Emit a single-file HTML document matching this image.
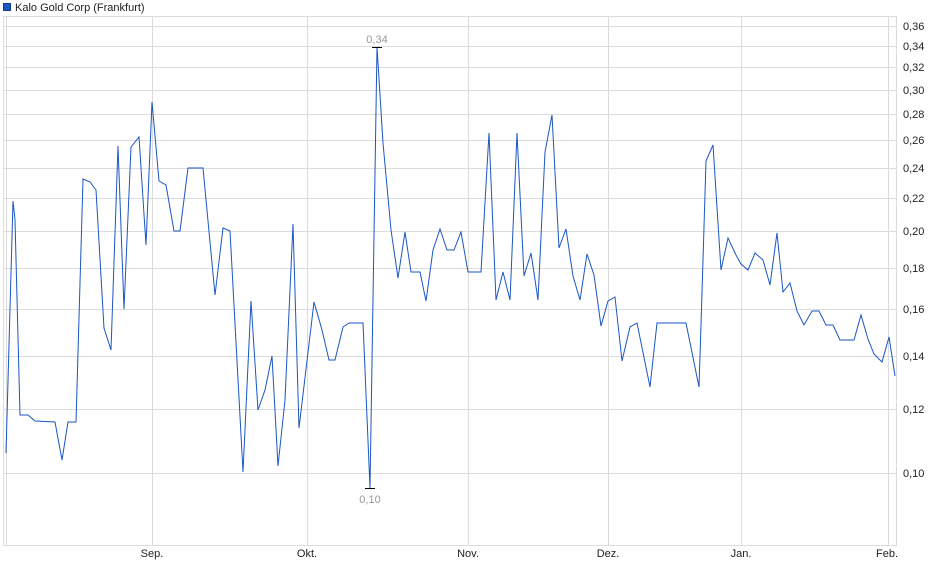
<!DOCTYPE html>
<html><head><meta charset="utf-8"><style>
body{margin:0;background:#fff;width:940px;height:579px;overflow:hidden}
svg{display:block;font-family:"Liberation Sans",Arial,sans-serif}
</style></head><body>
<svg width="940" height="579" viewBox="0 0 940 579" xmlns="http://www.w3.org/2000/svg">
<rect x="3.5" y="3.5" width="7" height="7" fill="#1a56c4" stroke="#143a80" stroke-width="1"/>
<text x="15" y="11" font-size="11" fill="#222">Kalo Gold Corp (Frankfurt)</text>
<g stroke="#dcdcdc" stroke-width="1" fill="none">
<line x1="3" y1="16.5" x2="897" y2="16.5"/>
<line x1="3" y1="545.5" x2="897" y2="545.5"/>
<line x1="3.5" y1="16" x2="3.5" y2="546"/>
<line x1="6.5" y1="16" x2="6.5" y2="546"/>
<line x1="896.5" y1="16" x2="896.5" y2="546"/>
<line x1="152.5" y1="16" x2="152.5" y2="546"/>
<line x1="307.5" y1="16" x2="307.5" y2="546"/>
<line x1="468.5" y1="16" x2="468.5" y2="546"/>
<line x1="608.5" y1="16" x2="608.5" y2="546"/>
<line x1="741.5" y1="16" x2="741.5" y2="546"/>
<line x1="888.5" y1="16" x2="888.5" y2="546"/>
<line x1="3" y1="473.5" x2="897" y2="473.5"/>
<line x1="3" y1="409.5" x2="897" y2="409.5"/>
<line x1="3" y1="356.5" x2="897" y2="356.5"/>
<line x1="3" y1="309.5" x2="897" y2="309.5"/>
<line x1="3" y1="268.5" x2="897" y2="268.5"/>
<line x1="3" y1="231.5" x2="897" y2="231.5"/>
<line x1="3" y1="198.5" x2="897" y2="198.5"/>
<line x1="3" y1="168.5" x2="897" y2="168.5"/>
<line x1="3" y1="140.5" x2="897" y2="140.5"/>
<line x1="3" y1="114.5" x2="897" y2="114.5"/>
<line x1="3" y1="90.5" x2="897" y2="90.5"/>
<line x1="3" y1="67.5" x2="897" y2="67.5"/>
<line x1="3" y1="46.5" x2="897" y2="46.5"/>
<line x1="3" y1="26.5" x2="897" y2="26.5"/>
</g>
<g font-size="11" fill="#222">
<text x="903" y="477">0,10</text>
<text x="903" y="413">0,12</text>
<text x="903" y="360">0,14</text>
<text x="903" y="313">0,16</text>
<text x="903" y="272">0,18</text>
<text x="903" y="235">0,20</text>
<text x="903" y="202">0,22</text>
<text x="903" y="172">0,24</text>
<text x="903" y="144">0,26</text>
<text x="903" y="118">0,28</text>
<text x="903" y="94">0,30</text>
<text x="903" y="71">0,32</text>
<text x="903" y="50">0,34</text>
<text x="903" y="30">0,36</text>
<g text-anchor="middle">
<text x="152" y="557">Sep.</text>
<text x="307" y="557">Okt.</text>
<text x="468" y="557">Nov.</text>
<text x="608" y="557">Dez.</text>
<text x="741" y="557">Jan.</text>
<text x="887" y="557">Feb.</text>
</g>
</g>
<polyline fill="none" stroke="#1a56c4" stroke-width="1" stroke-linejoin="miter" points="
6,453 13,201 15,220 20,415 28,415 35,421 55,422 62,460 68,422 76,422 83,179 90,182 96,190 104,328 111,350 118,146 124,309 131,147 139,137 146,245 152,102 159,181 166,185 174,231 180,231 188,168 203,168 215,295 223,228 230,231 243,472 251,301 258,410 265,390 272,356 278,466 285,400 293,224 299,428 314,302 322,330 329,360 335,360 343,327 349,323 363,323 370,488 377,47 383,143 391,230 398,278 405,232 411,272 420,272 426,301 433,250 440,229 447,250 454,250 461,232 468,272 481,272 489,133 496,300 503,272 510,300 517,133 524,276 531,253 538,300 545,152 552,115 559,248 566,229 573,276 580,300 587,254 594,275 601,326 608,301 615,297 622,361 630,327 637,323 650,387 657,323 686,323 699,387 702,293 706,161 713,145 721,270 728,238 736,255 741,264 748,270 755,253 763,260 770,285 777,233 783,292 790,283 797,311 804,325 812,311 819,311 826,325 833,325 840,340 854,340 861,315 868,339 874,354 882,362 889,337 895,376"/>
<line x1="372" y1="47.5" x2="382" y2="47.5" stroke="#000" stroke-width="1"/>
<line x1="365" y1="488.5" x2="375" y2="488.5" stroke="#000" stroke-width="1"/>
<text x="377" y="43" font-size="11" fill="#999" text-anchor="middle">0,34</text>
<text x="370" y="503" font-size="11" fill="#999" text-anchor="middle">0,10</text>
</svg>
</body></html>
